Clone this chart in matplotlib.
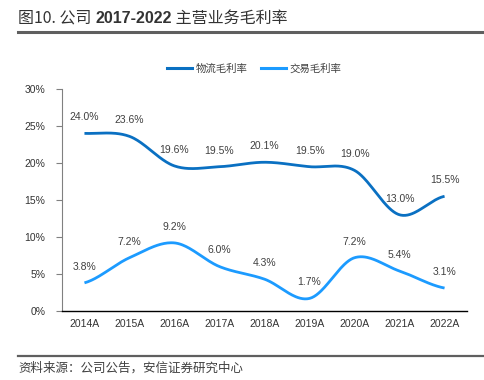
import numpy as np
import matplotlib
matplotlib.use("Agg")
import matplotlib.pyplot as plt
from matplotlib.lines import Line2D

plt.rcParams['font.family'] = ['Liberation Sans', 'Noto Sans CJK SC', 'DejaVu Sans']

years = ["2014A", "2015A", "2016A", "2017A", "2018A", "2019A", "2020A", "2021A", "2022A"]
logistics = [24.0, 23.6, 19.6, 19.5, 20.1, 19.5, 19.0, 13.0, 15.5]
trading = [3.8, 7.2, 9.2, 6.0, 4.3, 1.7, 7.2, 5.4, 3.1]
series_names = ["物流毛利率", "交易毛利率"]
yticks = [0, 5, 10, 15, 20, 25, 30]

c1 = "#0A70C2"
c2 = "#1C9BFF"


def smooth(xs, ys, n=40, t=0.5):
    xs = np.asarray(xs, float)
    ys = np.asarray(ys, float)
    px = np.concatenate([[2 * xs[0] - xs[1]], xs, [2 * xs[-1] - xs[-2]]])
    py = np.concatenate([[ys[0]], ys, [ys[-1]]])
    ox, oy = [], []
    for i in range(1, len(px) - 2):
        p0, p1, p2, p3 = (np.array([px[j], py[j]]) for j in range(i - 1, i + 3))
        b1 = p1 + (p2 - p0) * t / 3
        b2 = p2 - (p3 - p1) * t / 3
        s = np.linspace(0, 1, n)[:, None]
        pts = (1 - s) ** 3 * p1 + 3 * (1 - s) ** 2 * s * b1 + 3 * (1 - s) * s ** 2 * b2 + s ** 3 * p2
        ox.extend(pts[:, 0]); oy.extend(pts[:, 1])
    return np.array(ox), np.array(oy)


fig = plt.figure(figsize=(4.84, 3.8), dpi=100)
ax = fig.add_axes([0.128, 0.1816, 0.837, 0.5842])
x = np.arange(len(years))

for vals, col in ((logistics, c1), (trading, c2)):
    sx, sy = smooth(x, vals)
    ax.plot(sx, sy, color=col, lw=2.0, solid_capstyle='butt')
    for xi, v in zip(x, vals):
        ax.annotate(f"{v:.1f}%", (xi, v), xytext=(0, 8), textcoords='offset points',
                    ha='center', va='bottom', fontsize=7.5, color='#404040')

ax.set_xlim(-0.5, len(years) - 0.5)
ax.set_ylim(0, 30)
ax.set_yticks(yticks)
ax.set_yticklabels([f"{v}%" for v in yticks], fontsize=7.5, color='#333333')
ax.set_xticks(x)
ax.set_xticklabels(years, fontsize=7.5, color='#333333')
ax.tick_params(axis='x', length=0, pad=6)
ax.tick_params(axis='y', length=4, direction='out', color='#808080', pad=8)
for s in ('top', 'right'):
    ax.spines[s].set_visible(False)
ax.spines['left'].set_color('#808080')
ax.spines['bottom'].set_color('#000000')
ax.spines['bottom'].set_linewidth(1.0)

handles = [Line2D([], [], color=c1, lw=2.2), Line2D([], [], color=c2, lw=2.2)]
leg = fig.legend(handles, series_names, loc='center', bbox_to_anchor=(0.525, 0.82), ncol=2,
                 frameon=False, handlelength=2.4, handletextpad=0.3, columnspacing=1.3,
                 prop={'family': ['Noto Sans CJK SC'], 'size': 7.5})
for t in leg.get_texts():
    t.set_color('#404040')

# title in pieces: regular CJK, bold digits
cjk = ['Noto Sans CJK SC', 'DejaVu Sans']
fig.canvas.draw()
r = fig.canvas.get_renderer()
pieces = [("图10. 公司 ", 'normal', cjk), ("2017-2022", 'bold', ['Liberation Sans']), (" 主营业务毛利率", 'normal', cjk)]
xpos = 18
for txt, w, fam in pieces:
    t = fig.text(xpos / 484, 0.952, txt, fontsize=11.5, fontweight=w, color='#333333',
                 va='center', ha='left', family=fam)
    bb = t.get_window_extent(renderer=r)
    xpos += bb.width

fig.add_artist(Line2D([0.037, 1.0], [0.916, 0.916], color='#5f5f5f', lw=2.2, transform=fig.transFigure))
fig.add_artist(Line2D([0.037, 1.0], [0.063, 0.063], color='#5f5f5f', lw=1.6, transform=fig.transFigure))
fig.text(0.037, 0.032, "资料来源：公司公告，安信证券研究中心", fontsize=9, style='italic',
         color='#404040', va='center', ha='left', family=cjk)

fig.savefig("out.png", dpi=100)
